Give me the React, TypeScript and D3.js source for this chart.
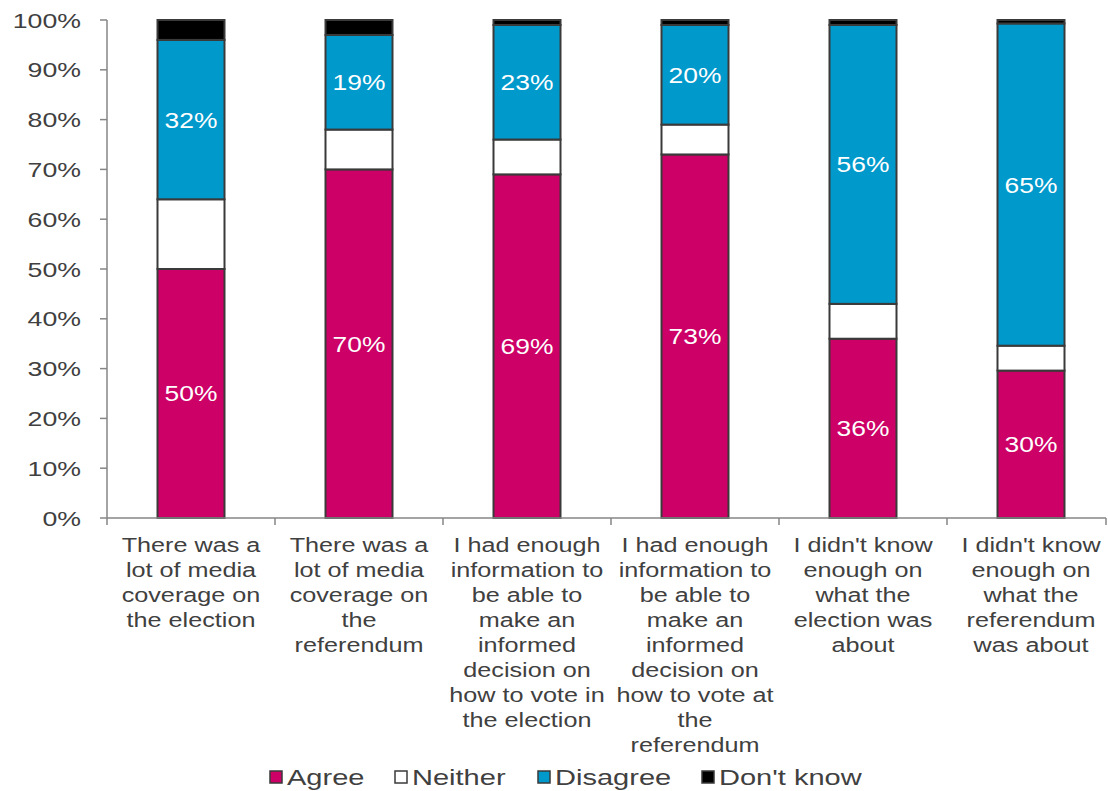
import React from "react";
import * as d3 from "d3";

const categories: string[][] = [
  ["There was a", "lot of media", "coverage on", "the election"],
  ["There was a", "lot of media", "coverage on", "the", "referendum"],
  ["I had enough", "information to", "be able to", "make an", "informed", "decision on", "how to vote in", "the election"],
  ["I had enough", "information to", "be able to", "make an", "informed", "decision on", "how to vote at", "the", "referendum"],
  ["I didn't know", "enough on", "what the", "election was", "about"],
  ["I didn't know", "enough on", "what the", "referendum", "was about"],
];
const agree = [50, 70, 69, 73, 36, 29.6];
const neither = [14, 8, 7, 6, 7, 5];
const disagree = [32, 19, 23, 20, 56, 64.7];
const dontKnow = [4, 3, 1, 1, 1, 0.7];
const seriesNames = ["Agree", "Neither", "Disagree", "Don't know"];
const seriesColors = ["#CC0066", "#FFFFFF", "#0099CC", "#000000"];
const yTicks = [0, 10, 20, 30, 40, 50, 60, 70, 80, 90, 100];

function SText({ x, y, sx, anchor, size, fill, children, dy }: any) {
  return (
    <text transform={`translate(${x},${y}) scale(${sx},1)`} textAnchor={anchor} fontSize={size} fill={fill} dy={dy}>
      {children}
    </text>
  );
}

export default function App() {
  const W = 1108, H = 791;
  const left = 107, top = 20, bottom = 518;
  const step = 168;
  const right = left + 6 * step;
  const x = d3.scaleBand<number>().domain(d3.range(6)).range([left, right]).paddingInner(0.6).paddingOuter(0.3);
  const y = d3.scaleLinear().domain([0, 100]).range([bottom, top]);
  const rows = categories.map((_, i) => ({ Agree: agree[i], Neither: neither[i], Disagree: disagree[i], "Don't know": dontKnow[i] }));
  const stack = d3.stack<any>().keys(seriesNames)(rows);
  const font = "'Liberation Sans', Arial, sans-serif";
  const axisColor = "#868686";
  const textColor = "#404040";
  const legendX = [270, 395, 538, 702];
  const bw = 67;
  const cx = (i: number) => x(i)! + x.bandwidth() / 2;
  return (
    <svg width={W} height={H} style={{ position: "absolute", left: 0, top: 0, background: "#fff" }} fontFamily={font}>
      {stack.map((s, si) => (
        <g key={si}>
          {s.map((d, i) => (
            <rect key={i} x={cx(i) - bw / 2} width={bw} y={y(Math.min(d[1], 100))} height={y(d[0]) - y(Math.min(d[1], 100))}
              fill={seriesColors[si]} stroke="#3a3a3a" strokeWidth={2} />
          ))}
        </g>
      ))}
      {[0, 2].map((si) => stack[si].map((d, i) => (
        <SText key={`${si}-${i}`} x={cx(i)} y={y((d[0] + d[1]) / 2)} dy="0.36em" anchor="middle" sx={1.2}
          fill="#fff" size={22}>{Math.round(d[1] - d[0])}%</SText>
      )))}
      <line x1={left} x2={left} y1={top} y2={bottom} stroke={axisColor} strokeWidth={1.5} />
      {yTicks.map((t) => (
        <g key={t}>
          <line x1={left - 7} x2={left} y1={y(t)} y2={y(t)} stroke={axisColor} strokeWidth={1.5} />
          <SText x={81} y={y(t)} dy="0.36em" anchor="end" size={21} sx={1.27} fill={textColor}>{t}%</SText>
        </g>
      ))}
      <line x1={left} x2={1106} y1={bottom} y2={bottom} stroke={axisColor} strokeWidth={1.5} />
      {d3.range(7).map((k) => (
        <line key={k} x1={Math.min(left + k * step, 1106)} x2={Math.min(left + k * step, 1106)} y1={bottom} y2={bottom + 7} stroke={axisColor} strokeWidth={1.5} />
      ))}
      {categories.map((lines, i) => (
        <g key={i}>
          {lines.map((l, j) => (
            <SText key={j} x={cx(i)} y={552 + j * 25} anchor="middle" size={21} sx={1.2} fill={textColor}>{l}</SText>
          ))}
        </g>
      ))}
      {seriesNames.map((name, k) => (
        <g key={k}>
          <rect x={legendX[k]} y={771} width={12} height={12} fill={seriesColors[k]} stroke="#3a3a3a" strokeWidth={1.5} />
          <SText x={legendX[k] + 17} y={777} dy="0.36em" anchor="start" size={22} sx={1.32} fill={textColor}>{name}</SText>
        </g>
      ))}
    </svg>
  );
}
